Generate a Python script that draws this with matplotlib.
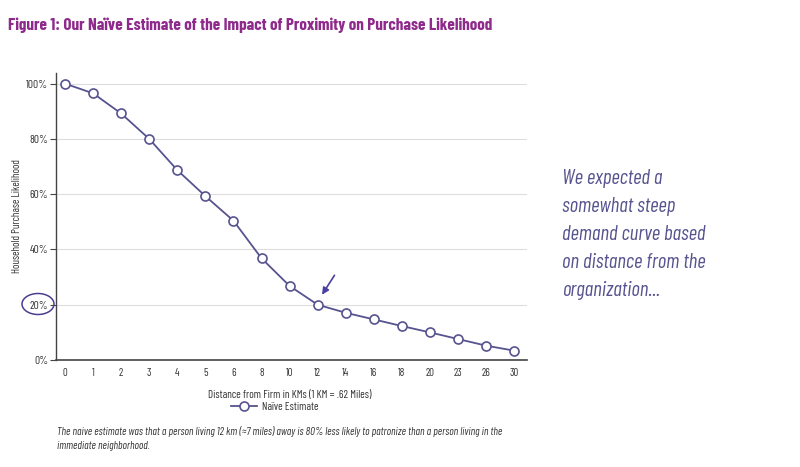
import matplotlib
matplotlib.use("Agg")
import matplotlib.pyplot as plt
from matplotlib.patches import Ellipse

# chart data
distances = ["0", "1", "2", "3", "4", "5", "6", "8", "10", "12",
             "14", "16", "18", "20", "23", "26", "30"]
likelihood = [100, 96.5, 89.2, 80, 68.7, 59.3, 50.4, 36.8, 26.8, 20,
              17.1, 14.7, 12.3, 10, 7.6, 5.2, 3.4]
y_ticks = [0, 20, 40, 60, 80, 100]
y_tick_labels = ["0%", "20%", "40%", "60%", "80%", "100%"]

cond = ["Barlow Condensed", "DejaVu Sans"]
plt.rcParams["font.family"] = cond

line_col = "#56538f"
title_col = "#8e2a8c"
text_col = "#333333"

fig = plt.figure(figsize=(8, 4.67), dpi=100)
ax = fig.add_axes([0.07, 0.229, 0.589, 0.615])

x = list(range(len(distances)))
ax.plot(x, likelihood, color=line_col, lw=1.3, marker="o", ms=6.5,
        mfc="white", mec=line_col, mew=1.2, label="Naïve Estimate", zorder=3)

ax.set_xlim(-0.32, 16.46)
ax.set_ylim(0, 103.9)
ax.set_xticks(x)
ax.set_xticklabels(distances)
ax.set_yticks(y_ticks)
ax.set_yticklabels(y_tick_labels)
ax.tick_params(axis="x", length=0, pad=6, labelsize=7.8, labelcolor=text_col)
ax.tick_params(axis="y", length=4, width=0.8, color="#444444", pad=1.5,
               labelsize=8.2, labelcolor=text_col)
ax.grid(axis="y", color="#dddddd", lw=0.8)
ax.set_axisbelow(True)
for s in ["top", "right"]:
    ax.spines[s].set_visible(False)
ax.spines["left"].set_color("#444444")
ax.spines["bottom"].set_color("#444444")
ax.spines["left"].set_linewidth(1)
ax.spines["bottom"].set_linewidth(1.2)

ax.set_ylabel("Household Purchase Likelihood", fontsize=7.8, color=text_col)
ax.yaxis.set_label_coords(-0.072, 0.5)
ax.set_xlabel("Distance from Firm in KMs (1 KM = .62 Miles)", fontsize=8,
              color=text_col)
ax.xaxis.set_label_coords(0.497, -0.105)

ax.legend(loc="center", bbox_to_anchor=(0.465, -0.164), frameon=False,
          fontsize=8, handlelength=2.3, borderpad=0, labelcolor=text_col,
          handletextpad=0.5)

# arrow pointing to the 12 km point
ax.annotate("", xy=(9.1, 22.8), xytext=(9.65, 31.5),
            arrowprops=dict(arrowstyle="-|>", color="#4a40a0", lw=1.2,
                            mutation_scale=10))

# circle around the 20% tick label
fig.patches.append(Ellipse((38 / 800, 1 - 304 / 467), 32 / 800, 21 / 467,
                           transform=fig.transFigure, fill=False,
                           edgecolor="#4a3f8f", lw=1.1))

fig.text(8 / 800, 1 - 25 / 467,
         "Figure 1: Our Naïve Estimate of the Impact of Proximity on Purchase Likelihood",
         color=title_col, fontsize=12.3, fontweight="bold", va="center", ha="left")

fig.text(562 / 800, 1 - 169 / 467,
         "We expected a\nsomewhat steep\ndemand curve based\non distance from the\norganization...",
         color=line_col, fontsize=15, style="italic", va="top", ha="left",
         linespacing=1.6)

fig.text(57 / 800, 1 - 426 / 467,
         "The naive estimate was that a person living 12 km (≈7 miles) away is 80% less likely to patronize than a person living in the\nimmediate neighborhood.",
         color=text_col, fontsize=7.9, style="italic", va="top", ha="left",
         linespacing=1.5)

fig.savefig("out.png", dpi=100, facecolor="white")
